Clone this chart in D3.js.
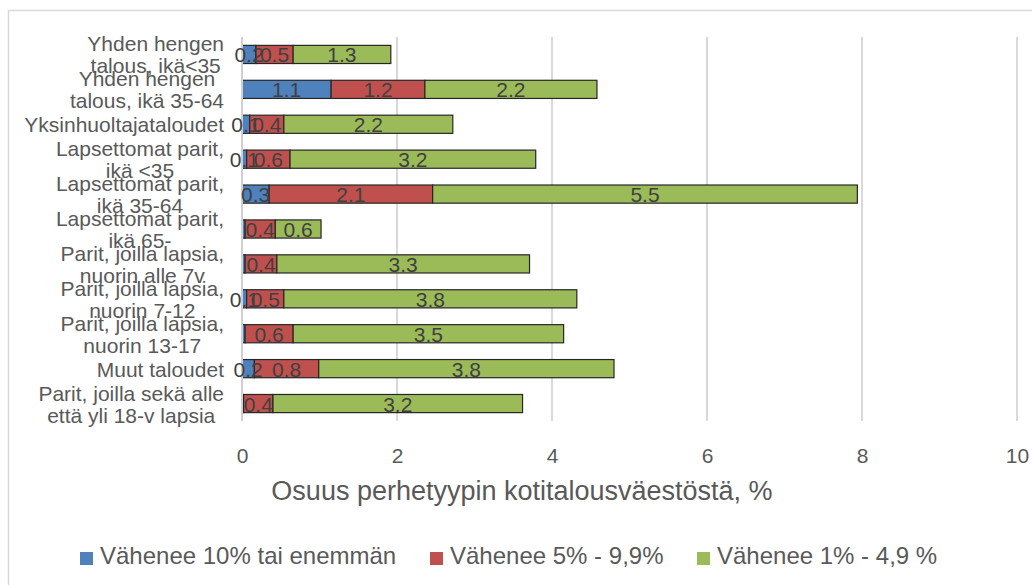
<!DOCTYPE html>
<html>
<head>
<meta charset="utf-8">
<script src="https://cdn.jsdelivr.net/npm/d3@7"></script>
<style>
  body { margin: 0; background: #fff; }
  svg text { font-family: "Liberation Sans", Arial, sans-serif; }
</style>
</head>
<body>
<div class="chart"></div>
<script>
// categories (top to bottom)
var categories = [
  ["Yhden hengen", "talous, ikä<35"],
  ["Yhden hengen", "talous, ikä 35-64"],
  ["Yksinhuoltajataloudet"],
  ["Lapsettomat parit,", "ikä <35"],
  ["Lapsettomat parit,", "ikä 35-64"],
  ["Lapsettomat parit,", "ikä 65-"],
  ["Parit, joilla lapsia,", "nuorin alle 7v"],
  ["Parit, joilla lapsia,", "nuorin 7-12"],
  ["Parit, joilla lapsia,", "nuorin 13-17"],
  ["Muut taloudet"],
  ["Parit, joilla sekä alle", "että yli 18-v lapsia"]
];

var seriesNames = ["Vähenee 10% tai enemmän", "Vähenee 5% - 9,9%", "Vähenee 1% - 4,9 %"];
var seriesColors = ["#4f81bd", "#c0504d", "#9bbb59"];

var over10 = [0.18, 1.15, 0.10, 0.06, 0.35, 0.04, 0.04, 0.06, 0.04, 0.16, 0.02];
var from5to10 = [0.48, 1.21, 0.44, 0.56, 2.11, 0.39, 0.41, 0.48, 0.62, 0.83, 0.38];
var from1to5 = [1.26, 2.22, 2.18, 3.17, 5.48, 0.59, 3.26, 3.78, 3.49, 3.81, 3.22];

var xTicks = [0, 2, 4, 6, 8, 10];
var xTitle = "Osuus perhetyypin kotitalousväestöstä, %";

var svgWidth = 1032, svgHeight = 585;
var margin = { top: 37, right: 15, bottom: 164, left: 242 };
var width = svgWidth - margin.left - margin.right;
var height = svgHeight - margin.top - margin.bottom;

var svg = d3.select(".chart").append("svg")
  .attr("width", svgWidth)
  .attr("height", svgHeight);

// chart frame
svg.append("rect")
  .attr("x", 8.5).attr("y", 10.5)
  .attr("width", 1040).attr("height", 600)
  .attr("fill", "none")
  .attr("stroke", "#d9d9d9")
  .attr("stroke-width", 1.5);

var chartGroup = svg.append("g")
  .attr("transform", `translate(${margin.left}, ${margin.top})`);

var data = categories.map(function(c, i) {
  return { idx: i, label: c, v0: over10[i], v1: from5to10[i], v2: from1to5[i] };
});

var stack = d3.stack().keys(["v0", "v1", "v2"]);
var stacked = stack(data);

var xScale = d3.scaleLinear().domain([0, 10]).range([0, width]);
var yScale = d3.scaleBand()
  .domain(data.map(d => d.idx))
  .range([0, height])
  .paddingInner(0.48)
  .paddingOuter(0.24);

// gridlines
chartGroup.append("g")
  .selectAll("line")
  .data(xTicks.slice(1))
  .enter()
  .append("line")
  .attr("x1", d => xScale(d)).attr("x2", d => xScale(d))
  .attr("y1", 0).attr("y2", height)
  .attr("stroke", "#d9d9d9")
  .attr("stroke-width", 2);

// x axis ticks (no line)
var xAxis = d3.axisBottom(xScale).tickValues(xTicks).tickSize(0).tickPadding(0);
var xAxisG = chartGroup.append("g")
  .attr("transform", `translate(0, ${height})`)
  .call(xAxis);
xAxisG.select(".domain").remove();
xAxisG.selectAll("text")
  .attr("dy", null)
  .attr("y", 42)
  .attr("font-size", "21px")
  .attr("font-family", "Liberation Sans, Arial, sans-serif")
  .attr("fill", "#595959");

// bars
var layers = chartGroup.selectAll(".layer")
  .data(stacked)
  .enter()
  .append("g")
  .attr("fill", (d, i) => seriesColors[i]);

layers.selectAll("rect")
  .data(d => d)
  .enter()
  .append("rect")
  .attr("x", d => xScale(d[0]))
  .attr("y", d => yScale(d.data.idx))
  .attr("width", d => xScale(d[1]) - xScale(d[0]))
  .attr("height", yScale.bandwidth())
  .attr("stroke", "#262626")
  .attr("stroke-width", 1.2);

// vertical axis line
chartGroup.append("line")
  .attr("x1", 0).attr("x2", 0)
  .attr("y1", 0).attr("y2", height)
  .attr("stroke", "#d0d0d0")
  .attr("stroke-width", 2);

// data labels
var fmt = d3.format(".1f");
stacked.forEach(function(layer) {
  chartGroup.append("g").selectAll("text")
    .data(layer.filter(d => fmt(d[1] - d[0]) !== "0.0"))
    .enter()
    .append("text")
    .attr("x", d => xScale((d[0] + d[1]) / 2))
    .attr("y", d => yScale(d.data.idx) + yScale.bandwidth() / 2 + 8)
    .attr("text-anchor", "middle")
    .attr("font-size", "21px")
    .attr("fill", "#404040")
    .text(d => fmt(d[1] - d[0]));
});

// category labels, wrapped lines centred on each other, block right-aligned
var labelRight = 224 - margin.left;
data.forEach(function(d) {
  var cy = yScale(d.idx) + yScale.bandwidth() / 2;
  var g = chartGroup.append("g");
  var texts = d.label.map(function(line, j) {
    var base = d.label.length === 1 ? cy + 8 : cy - 3 + j * 22;
    return g.append("text")
      .attr("y", base)
      .attr("text-anchor", "middle")
      .attr("font-size", "21px")
      .attr("fill", "#595959")
      .text(line);
  });
  var maxW = d3.max(texts, t => t.node().getComputedTextLength());
  texts.forEach(t => t.attr("x", labelRight - maxW / 2));
});

// axis title
svg.append("text")
  .attr("x", 522)
  .attr("y", 500)
  .attr("text-anchor", "middle")
  .attr("font-size", "27px")
  .attr("fill", "#595959")
  .text(xTitle);

// legend
var legendX = [80, 430, 697];
var legend = svg.append("g");
seriesNames.forEach(function(name, i) {
  legend.append("rect")
    .attr("x", legendX[i]).attr("y", 552)
    .attr("width", 13).attr("height", 13)
    .attr("fill", seriesColors[i]);
  legend.append("text")
    .attr("x", legendX[i] + 20)
    .attr("y", 564)
    .attr("font-size", "24px")
    .attr("fill", "#595959")
    .text(name);
});
</script>
</body>
</html>
